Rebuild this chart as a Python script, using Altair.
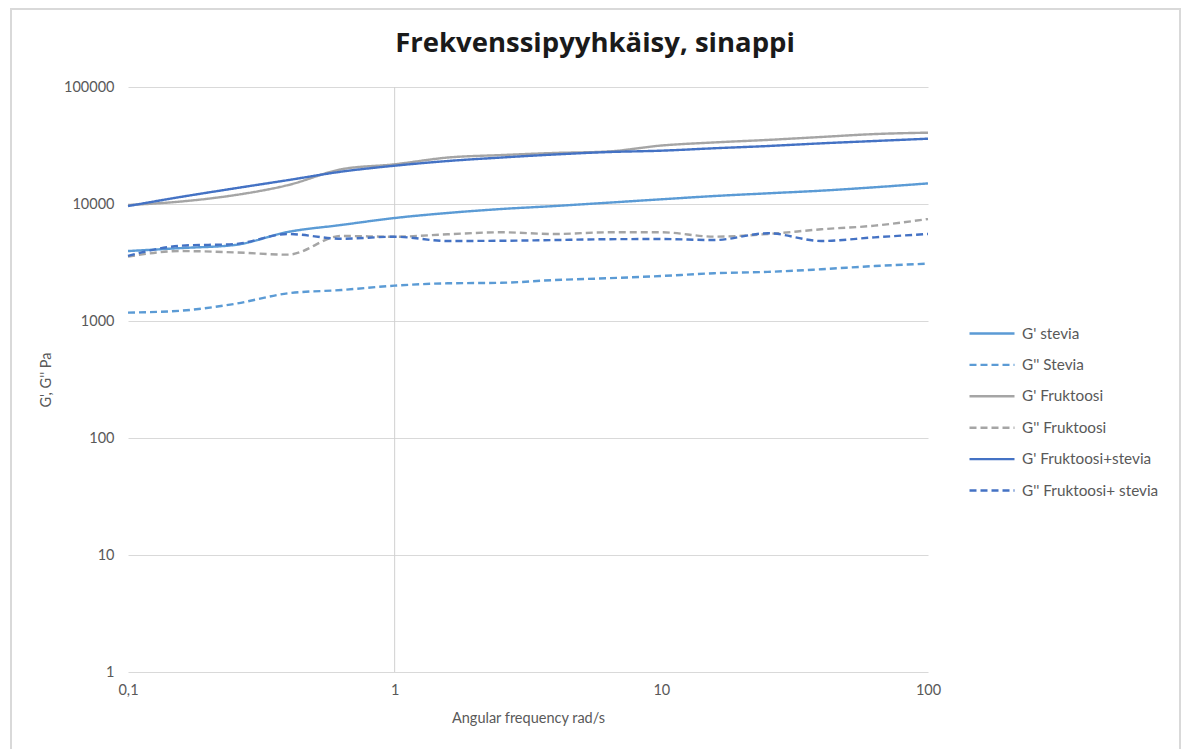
import altair as alt
import pandas as pd

# Angular frequency sweep points (rad/s), five per decade
freq = [0.1, 0.158, 0.251, 0.398, 0.631, 1.0, 1.58, 2.51, 3.98, 6.31,
        10.0, 15.8, 25.1, 39.8, 63.1, 100.0]

# Storage (G') and loss (G'') moduli in Pa
g1_stevia = [3960, 4200, 4460, 5770, 6620, 7590, 8380, 9060, 9610, 10260,
             10970, 11700, 12340, 13000, 13900, 15000]
g2_stevia = [1180, 1225, 1400, 1725, 1840, 2005, 2100, 2120, 2240, 2320,
             2425, 2560, 2630, 2770, 2950, 3090]
g1_fruktoosi = [9800, 10500, 11900, 14500, 19800, 21850, 24950, 26200, 27300, 28100,
                31600, 33600, 35300, 37400, 39600, 40700]
g2_fruktoosi = [3550, 3960, 3860, 3690, 5330, 5250, 5510, 5730, 5540, 5730,
                5730, 5260, 5540, 6080, 6530, 7450]
g1_fs = [9600, 11500, 13600, 16000, 18900, 21250, 23300, 24950, 26500, 27800,
         28560, 29950, 31300, 33000, 34550, 36150]
g2_fs = [3600, 4400, 4550, 5540, 5050, 5250, 4830, 4850, 4920, 5000,
         5020, 4920, 5620, 4830, 5190, 5540]

series_names = ["G' stevia", "G'' Stevia", "G' Fruktoosi", "G'' Fruktoosi",
                "G' Fruktoosi+stevia", "G'' Fruktoosi+ stevia"]
series_values = [g1_stevia, g2_stevia, g1_fruktoosi, g2_fruktoosi, g1_fs, g2_fs]
series_colors = ["#5B9BD5", "#5B9BD5", "#A5A5A5", "#A5A5A5", "#4472C4", "#4472C4"]
series_dash = [[1, 0], [7, 4], [1, 0], [7, 4], [1, 0], [7, 4]]

rows = []
for name, vals in zip(series_names, series_values):
    for f, v in zip(freq, vals):
        rows.append({"series": name, "freq": f, "value": v})
df = pd.DataFrame(rows)

FONT = "Lato"
LABEL_COLOR = "#595959"
W, H = 800, 585

x_scale = alt.Scale(type="log", domain=[0.1, 100])
y_scale = alt.Scale(type="log", domain=[1, 100000])

lines = alt.Chart(df).mark_line(strokeWidth=2.4, interpolate="monotone").encode(
    x=alt.X("freq:Q", scale=x_scale,
            axis=alt.Axis(title="Angular frequency rad/s", values=[0.1, 1, 10, 100],
                          labelExpr="replace(format(datum.value, '~g'), '.', ',')",
                          labelFlush=False, grid=False, domain=False, ticks=False,
                          labelPadding=11, titlePadding=15)),
    y=alt.Y("value:Q", scale=y_scale,
            axis=alt.Axis(title="G', G'' Pa", values=[1, 10, 100, 1000, 10000, 100000],
                          format="d", grid=True, gridColor="#D9D9D9", gridWidth=1,
                          domain=False, ticks=False, labelPadding=14, titlePadding=10)),
    color=alt.Color("series:N", sort=series_names,
                    scale=alt.Scale(domain=series_names, range=series_colors),
                    legend=alt.Legend(title=None, orient="none", legendX=840, legendY=231,
                                      symbolType="stroke", symbolSize=2025,
                                      symbolStrokeWidth=2.4, rowPadding=0.4, clipHeight=31,
                                      labelFontSize=15.3, labelColor=LABEL_COLOR,
                                      labelFont=FONT, labelOffset=6)),
    strokeDash=alt.StrokeDash("series:N", sort=series_names,
                              scale=alt.Scale(domain=series_names, range=series_dash)),
    order=alt.Order("freq:Q"),
)

# Vertical reference line at 1 rad/s
vline = alt.Chart(pd.DataFrame({"freq": [1.0]})).mark_rule(
    color="#D0D0D0", strokeWidth=1).encode(x=alt.X("freq:Q", scale=x_scale))

# Chart-area border
border = alt.Chart(pd.DataFrame({"k": [0]})).mark_rect(
    fill=None, stroke="#D9D9D9", strokeWidth=2).encode(
    x=alt.value(-117), x2=alt.value(1052), y=alt.value(-78), y2=alt.value(700))

chart = alt.layer(border, vline, lines).properties(
    width=W, height=H,
    title=alt.TitleParams("Frekvenssipyyhkäisy, sinappi", font="Open Sans", fontSize=27.5,
                          fontWeight="bold", color="#1A1A1A", anchor="middle",
                          baseline="alphabetic", dx=67, offset=-71),
    autosize=alt.AutoSizeParams(type="none"),
    padding={"left": 128, "top": 87, "right": 256, "bottom": 77},
).configure_view(stroke=None).configure_axis(
    labelFont=FONT, titleFont=FONT, labelFontSize=14.5, titleFontSize=14.5,
    labelColor=LABEL_COLOR, titleColor=LABEL_COLOR, titleFontWeight="normal",
)

chart.save("out.html", embed_options={"renderer": "svg", "actions": False})
